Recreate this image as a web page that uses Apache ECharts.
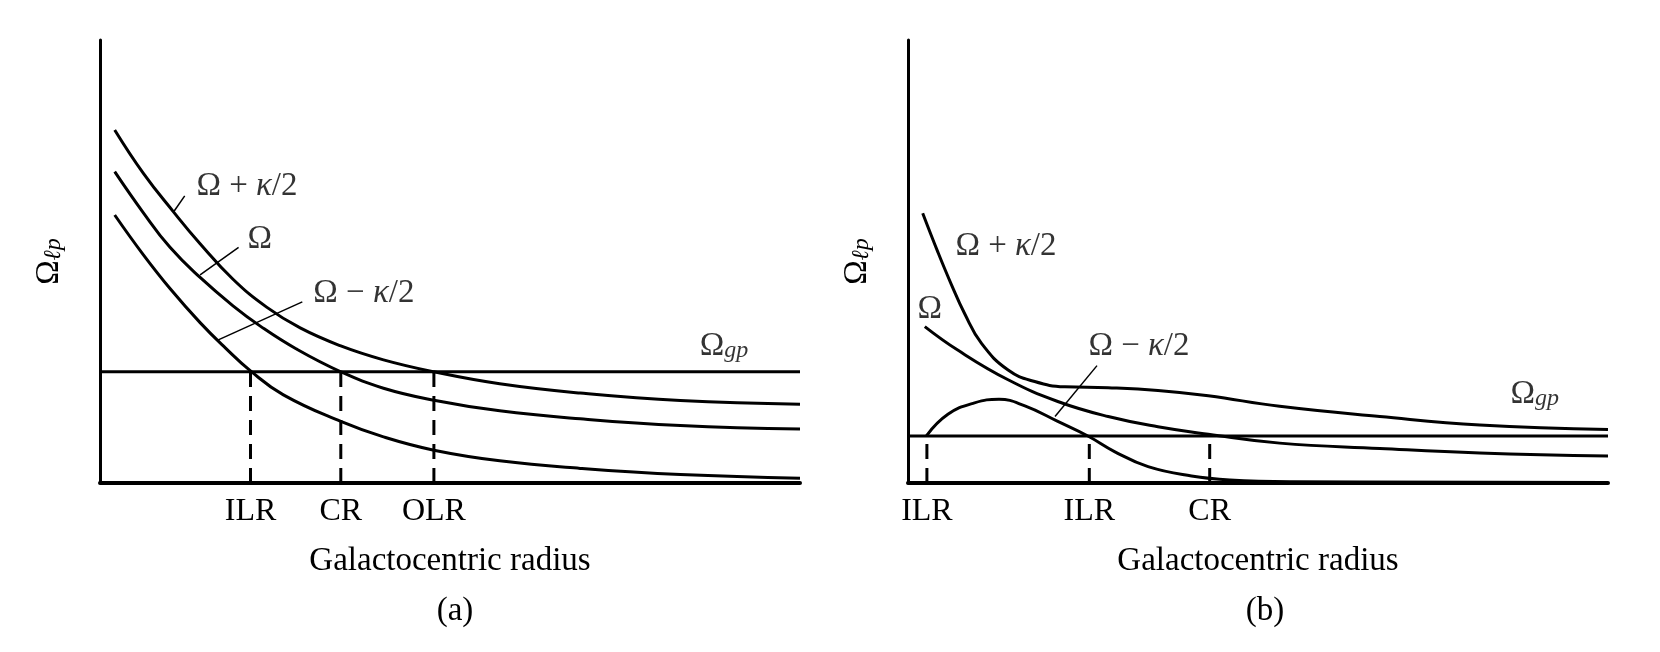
<!DOCTYPE html>
<html><head><meta charset="utf-8">
<script src="https://cdn.jsdelivr.net/npm/echarts@6/dist/echarts.min.js"></script>
<style>html,body{margin:0;padding:0;background:#fff}#c{width:1660px;height:652px}</style>
</head><body><div id="c"></div>
<script>
// ---------- Panel (a) ----------
const aPlus  = [[2.1,79.7],[6.2,69.9],[10.5,61.2],[14.3,54.0],[19.0,46.0],[23.8,39.7],[28.6,35.0],[34.3,31.0],[40.5,27.8],[47.7,25.1],[57.1,22.4],[68.6,20.3],[82.9,18.6],[100,17.8]];
const aOmega = [[2.1,70.3],[6.2,61.0],[10.0,53.2],[14.3,46.4],[19.0,40.0],[23.0,35.3],[28.0,30.3],[34.4,25.1],[40.5,21.4],[47.7,18.7],[57.1,16.3],[68.6,14.5],[82.9,13.0],[100,12.2]];
const aMinus = [[2.1,60.5],[6.2,51.5],[10.0,43.9],[14.3,36.2],[17.9,30.5],[21.5,25.3],[26.2,19.9],[34.4,13.9],[40.5,10.4],[47.7,7.4],[57.1,5.0],[68.6,3.3],[82.9,1.9],[100,1.1]];
const aPattern = 25.1;
const aResonances = [21.5, 34.4, 47.7];
const aResonanceNames = ['ILR', 'CR', 'OLR'];

// ---------- Panel (b) ----------
const bPlus  = [[2.1,60.9],[4.3,52.0],[6.2,44.8],[8.1,38.2],[10.5,31.5],[14.3,25.5],[18.1,22.9],[22.4,21.7],[28.6,21.5],[35.7,20.9],[42.9,19.7],[53.1,17.3],[67.4,15.0],[81.7,13.1],[100,12.1]];
const bOmega = [[2.4,35.3],[7.1,30.0],[14.3,23.3],[21.4,18.4],[28.6,15.0],[35.7,12.7],[42.9,11.0],[53.1,9.0],[67.4,7.8],[81.7,6.8],[100,6.1]];
const bMinus = [[2.6,10.6],[5.7,15.5],[9.5,18.1],[13.0,18.9],[16.7,17.4],[21.4,13.9],[25.7,10.6],[29.5,7.1],[34.3,3.7],[40.5,1.6],[46.0,0.7],[55.0,0.3],[100,0.1]];
const bPattern = 10.6;
const bResonances = [2.7, 25.9, 43.1];
const bResonanceNames = ['ILR', 'ILR', 'CR'];

// ---------- Curve labels (text anchor in data units) ----------
const aLabels = [
  {u:13.7, v:67.0, text:'Ω + {i|κ}/2'},
  {u:21.0, v:54.9, text:'Ω'},
  {u:30.4, v:42.8, text:'Ω − {i|κ}/2'},
  {u:85.6, v:30.7, text:'{b|Ω}{s|gp}'}
];
const aLeaders = [
  [[12.1,64.8],[10.6,61.4]],
  [[19.8,53.2],[14.3,47.0]],
  [[28.9,40.9],[16.9,32.3]]
];
const bLabels = [
  {u:6.7, v:53.5, text:'Ω + {i|κ}/2'},
  {u:1.3, v:39.1, text:'Ω'},
  {u:25.7, v:30.9, text:'Ω − {i|κ}/2'},
  {u:86.0, v:19.9, text:'{b|Ω}{s|gp}'}
];
const bLeaders = [
  [[27.0,26.5],[21.0,15.0]]
];

const FF = '"Liberation Serif","Times New Roman",serif';
const BLACK = '#000';
const FS = 33;
const RICH = {
  i: {fontStyle:'italic', fontFamily:FF, fontSize:FS, color:BLACK},
  b: {fontFamily:FF, fontSize:FS, color:BLACK, verticalAlign:'bottom', lineHeight:32},
  s: {fontFamily:FF, fontSize:24, fontStyle:'italic', color:BLACK, verticalAlign:'bottom', lineHeight:12}
};

function curve(g, data) {
  return {type:'line', xAxisIndex:g, yAxisIndex:g, data:data, smooth:0.45,
    showSymbol:false, silent:true, lineStyle:{color:BLACK, width:3}};
}
function straight(g, data, dashed, width) {
  return {type:'line', xAxisIndex:g, yAxisIndex:g, data:data, showSymbol:false, silent:true,
    lineStyle:{color:BLACK, width:width, type: dashed ? [15,9] : 'solid'}};
}
function labels(g, items) {
  return {type:'scatter', xAxisIndex:g, yAxisIndex:g, symbolSize:1, silent:true,
    itemStyle:{color:'rgba(0,0,0,0)'},
    data: items.map(it => ({value:[it.u, it.v], label:{formatter: it.text}})),
    label:{show:true, position:'right', distance:0, color:BLACK, fontFamily:FF, fontSize:FS, rich:RICH}};
}
function panelSeries(g, plus, omega, minus, gp, res, lbls, leaders) {
  const s = [curve(g, plus), curve(g, omega), curve(g, minus), straight(g, [[0,gp],[100,gp]], false, 3)];
  res.forEach(r => s.push(straight(g, [[r,0],[r,gp]], true, 3)));
  leaders.forEach(l => s.push(straight(g, l, false, 1.5)));
  s.push(labels(g, lbls));
  return s;
}
function xAx(g, res, names) {
  return {type:'value', gridIndex:g, min:0, max:100,
    name:'Galactocentric radius', nameLocation:'middle', nameGap:62,
    nameTextStyle:{fontFamily:FF, fontSize:FS, color:BLACK},
    axisLine:{show:true, lineStyle:{color:BLACK, width:4}},
    axisTick:{show:false}, splitLine:{show:false},
    axisLabel:{show:true, customValues:res, margin:13, fontFamily:FF, fontSize:32, color:BLACK,
      formatter:(v) => names[res.indexOf(v)] || ''}};
}
function yAx(g) {
  return {type:'value', gridIndex:g, min:0, max:100,
    name:'{b|Ω}{s|ℓp}', nameLocation:'middle', nameRotate:90, nameGap:34,
    nameTextStyle:{fontFamily:FF, fontSize:FS, color:BLACK, rich:RICH},
    axisLine:{show:true, onZero:false, lineStyle:{color:BLACK, width:3}},
    axisTick:{show:false}, axisLabel:{show:false}, splitLine:{show:false}};
}

const chart = echarts.init(document.getElementById('c'), null, {renderer:'canvas'});
chart.setOption({
  backgroundColor:'#fff',
  animation:false,
  title:[
    {text:'(a)', left:450, top:590, textAlign:'center', textStyle:{fontFamily:FF, fontSize:FS, fontWeight:'normal', color:BLACK}},
    {text:'(b)', left:1260, top:590, textAlign:'center', textStyle:{fontFamily:FF, fontSize:FS, fontWeight:'normal', color:BLACK}}
  ],
  grid:[
    {left:100, right:860, top:40, bottom:169},
    {left:908, right:52, top:40, bottom:169}
  ],
  xAxis:[xAx(0, aResonances, aResonanceNames), xAx(1, bResonances, bResonanceNames)],
  yAxis:[yAx(0), yAx(1)],
  series:[
    ...panelSeries(0, aPlus, aOmega, aMinus, aPattern, aResonances, aLabels, aLeaders),
    ...panelSeries(1, bPlus, bOmega, bMinus, bPattern, bResonances, bLabels, bLeaders)
  ]
});
</script></body></html>
